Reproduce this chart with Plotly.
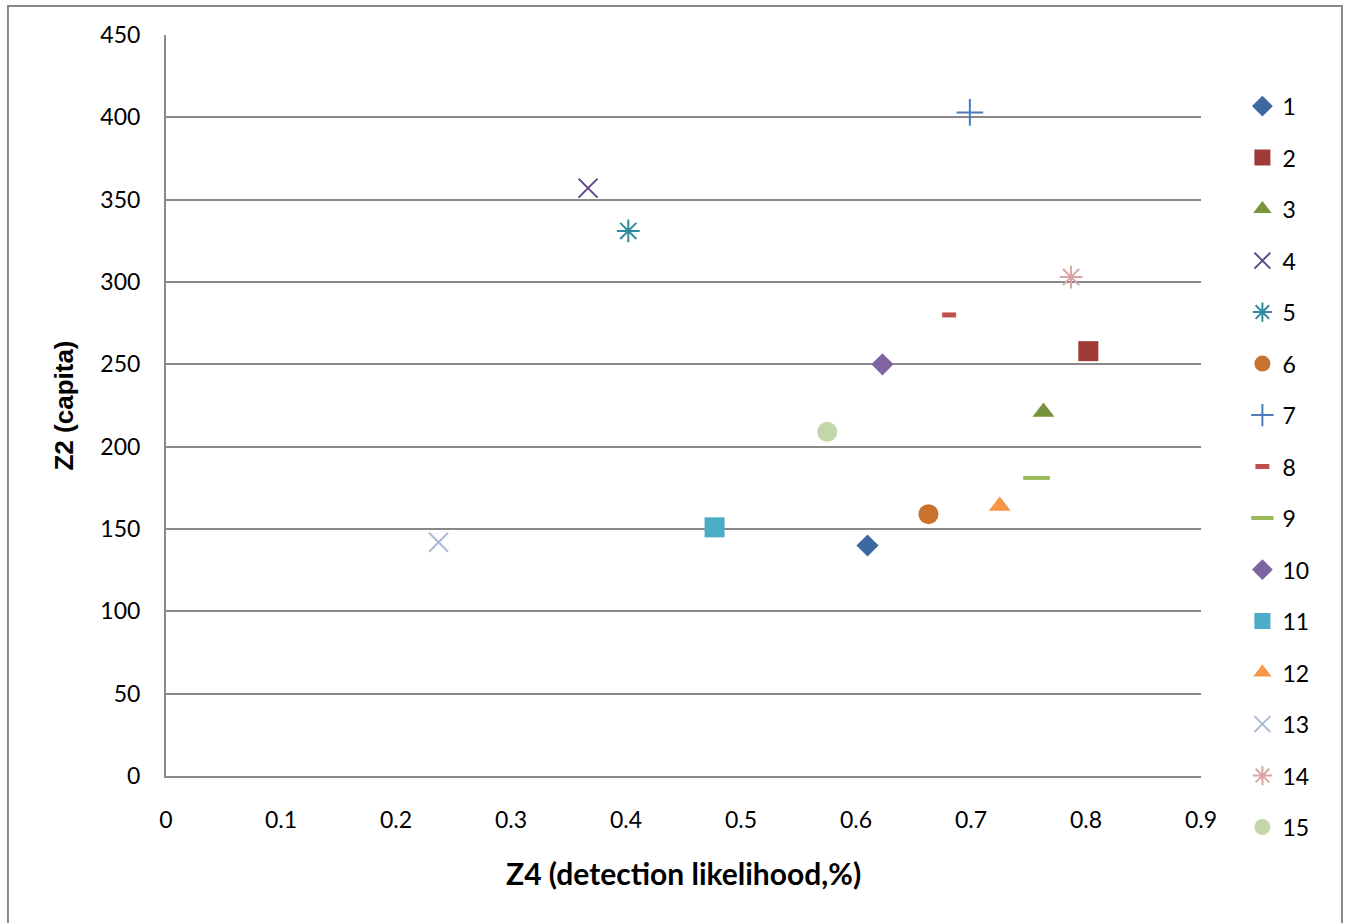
import plotly.graph_objects as go

# Series names and their (Z4, Z2) coordinates
series_names = ["1", "2", "3", "4", "5", "6", "7", "8", "9", "10", "11", "12", "13", "14", "15"]
z4_detection = [0.610, 0.802, 0.763, 0.367, 0.402, 0.663, 0.699, 0.681, 0.757, 0.623, 0.477, 0.725, 0.237, 0.787, 0.575]
z2_capita = [140, 258, 221, 357, 331, 159, 403, 280, 181, 250, 151, 164, 142, 303, 209]

x_ticks = [0, 0.1, 0.2, 0.3, 0.4, 0.5, 0.6, 0.7, 0.8, 0.9]
y_ticks = [0, 50, 100, 150, 200, 250, 300, 350, 400, 450]

# Marker styling per series
symbols = ["diamond", "square", "triangle-up", "x-thin-open", "asterisk-open", "circle",
           "cross-thin-open", "line-ew-open", "line-ew-open", "diamond", "square",
           "triangle-up", "x-thin-open", "asterisk-open", "circle"]
colors = ["#3E69A0", "#9E3B39", "#77933C", "#5F4A8B", "#2E8A9E", "#C8722F", "#4A7EBB",
          "#C0504D", "#9BBB59", "#8064A2", "#4BACC6", "#F79646", "#A9BAD9", "#D9A5A3", "#C3D6A9"]
sizes = [17, 20, 19, 19, 19, 20, 19, 10, 19, 17, 20, 19, 19, 19, 20]
line_widths = [0, 0, 0, 2, 2, 0, 2, 5, 4, 0, 0, 0, 2, 2, 0]

fig = go.Figure()
for i, name in enumerate(series_names):
    open_sym = symbols[i].endswith("open")
    fig.add_trace(go.Scatter(
        x=[z4_detection[i]], y=[z2_capita[i]], name=name, mode="markers",
        legendgroup=name,
        marker=dict(
            symbol=symbols[i], size=sizes[i], color=colors[i],
            line=dict(color=colors[i], width=line_widths[i] if open_sym else 0),
        ),
    ))

axis_gray = "#898989"
body_font = "Lato, 'Open Sans', sans-serif"
tick_font = dict(family=body_font, size=23, color="#000000")

fig.update_layout(
    width=1349, height=923,
    margin=dict(l=166, r=148, t=35, b=147),
    paper_bgcolor="white", plot_bgcolor="white",
    showlegend=True,
    legend=dict(
        x=1.04, y=0.933, xanchor="left", yanchor="top",
        font=dict(family=body_font, size=23, color="#000000"),
        tracegroupgap=18.6, itemsizing="trace", bgcolor="rgba(0,0,0,0)",
        maxheight=900,
    ),
    xaxis=dict(
        range=[0, 0.9], tickvals=x_ticks, ticktext=[f"{v:g}" for v in x_ticks],
        showgrid=False, zeroline=False, showline=True, linecolor=axis_gray, linewidth=2,
        ticks="", tickfont=tick_font, ticklabelstandoff=22,
    ),
    yaxis=dict(
        range=[0, 450], tickvals=y_ticks,
        showgrid=True, gridcolor=axis_gray, gridwidth=2, zeroline=False,
        showline=True, linecolor=axis_gray, linewidth=2,
        ticks="", tickfont=tick_font, ticklabelstandoff=19,
    ),
    annotations=[
        # zero-width non-joiner keeps "ti" from forming a ligature
        dict(text="<b>Z4 (detec\u200ction likelihood,%)</b>", xref="paper", yref="paper",
             x=0.5, y=-0.1310, xanchor="center", yanchor="middle", showarrow=False,
             font=dict(family=body_font, size=30, color="#000000")),
        dict(text="<b>Z2 (capita)</b>", xref="paper", yref="paper", textangle=-90,
             x=-0.0995, y=0.5, xanchor="center", yanchor="middle", showarrow=False,
             font=dict(family="'Liberation Sans', Arial, sans-serif", size=26, color="#000000")),
    ],
    shapes=[
        # Outer chart frame
        dict(type="rect", xref="paper", yref="paper",
             x0=-0.1527, x1=1.1362, y0=-0.21, y1=1.0391,
             line=dict(color=axis_gray, width=2), fillcolor="rgba(0,0,0,0)", layer="below"),
    ],
)

fig.write_html("out.html")
